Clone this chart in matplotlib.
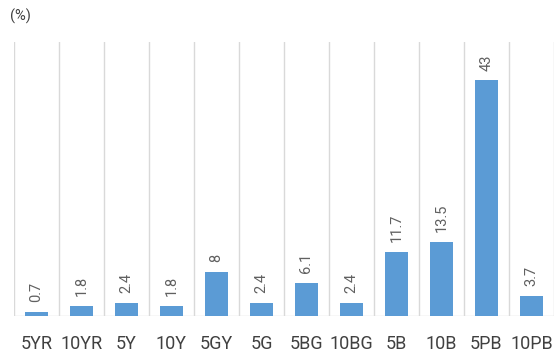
import matplotlib.pyplot as plt

plt.rcParams['font.family'] = ['Roboto', 'DejaVu Sans']

# Hue categories and their shares (%)
categories = ['5YR', '10YR', '5Y', '10Y', '5GY', '5G', '5BG', '10BG', '5B', '10B', '5PB', '10PB']
values = [0.7, 1.8, 2.4, 1.8, 8, 2.4, 6.1, 2.4, 11.7, 13.5, 43, 3.7]

fig = plt.figure(figsize=(5.6, 3.57), dpi=100)
ax = fig.add_axes([0.025, 0.115, 0.964, 0.767])

x = range(len(categories))
bars = ax.bar(x, values, width=0.5, color='#5b9bd5', zorder=3)

# value labels, rotated above each bar
for xi, v in zip(x, values):
    ax.annotate(f'{v:g}', (xi, v), xytext=(0, 7), textcoords='offset points',
                rotation=90, ha='center', va='bottom', fontsize=10.5, color='#606060')

ax.set_xlim(-0.5, len(categories) - 0.5)
ax.set_ylim(0, 50)

# vertical separators between categories
for b in range(len(categories) + 1):
    ax.axvline(b - 0.5, color='#d9d9d9', lw=1, zorder=1)
ax.axhline(0, color='#d9d9d9', lw=1, zorder=2)

ax.set_xticks(list(x))
ax.set_xticklabels(categories, fontsize=13, color='#404040')
ax.tick_params(axis='x', length=0, pad=14)
ax.set_yticks([])
for s in ax.spines.values():
    s.set_visible(False)

fig.text(0.018, 0.955, '(%)', fontsize=10.5, color='#404040', va='center', ha='left')

fig.savefig('out.png', dpi=100)
